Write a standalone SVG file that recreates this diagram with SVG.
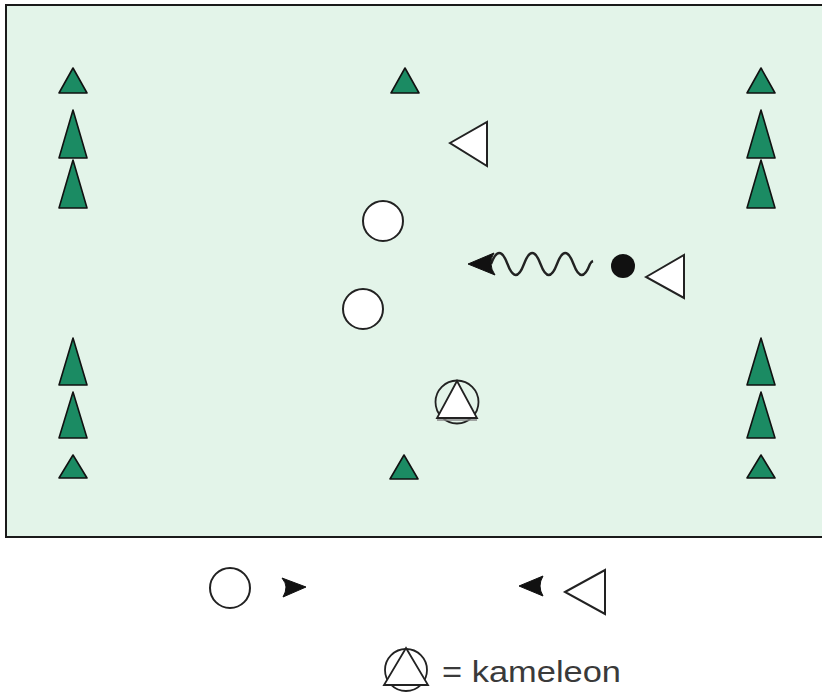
<svg xmlns="http://www.w3.org/2000/svg" width="822" height="695" viewBox="0 0 822 695">
<style>
.cone{fill:#1b8b63;stroke:#111;stroke-width:1.6;stroke-linejoin:round}
.wt{fill:#fff;stroke:#222;stroke-width:2;stroke-linejoin:miter}
.ring{fill:#fff;stroke:#222;stroke-width:2}
.arr{fill:#111;stroke:#111;stroke-width:1;stroke-linejoin:round}
.lbl{font-family:"Liberation Sans",Arial,sans-serif;font-size:30px;fill:#3a3a3a}
</style>
<rect width="822" height="695" fill="#fff"/>
<rect id="field" x="6" y="5" width="830" height="532" fill="#e3f4e9" stroke="#1a1a1a" stroke-width="2"/>
<g id="cones-left">
<polygon class="cone" points="73,68 87,93 59,93"/>
<polygon class="cone" points="73,110 87,158 59,158"/>
<polygon class="cone" points="73,160 87,208 59,208"/>
<polygon class="cone" points="73,338 87,385 59,385"/>
<polygon class="cone" points="73,392 87,438 59,438"/>
<polygon class="cone" points="73,455 87,478 59,478"/>
</g>
<g id="cones-center">
<polygon class="cone" points="405,68 419,93 391,93"/>
<polygon class="cone" points="404,455 418,479 390,479"/>
</g>
<g id="cones-right">
<polygon class="cone" points="761,68 775,93 747,93"/>
<polygon class="cone" points="761,110 775,158 747,158"/>
<polygon class="cone" points="761,160 775,208 747,208"/>
<polygon class="cone" points="761,338 775,385 747,385"/>
<polygon class="cone" points="761,392 775,438 747,438"/>
<polygon class="cone" points="761,455 775,478 747,478"/>
</g>
<g id="defender-top"><polygon class="wt" points="450,143 487,122 487,166"/></g>
<g id="player-1"><circle class="ring" cx="383" cy="221" r="20"/></g>
<g id="player-2"><circle class="ring" cx="363" cy="309" r="20"/></g>
<g id="ball"><circle cx="623" cy="266" r="12" fill="#111"/></g>
<g id="defender-right"><polygon class="wt" points="646,277 684,255 684,298"/></g>
<g id="kameleon-field">
<circle cx="457" cy="402" r="21.5" fill="none" stroke="#222" stroke-width="1.8"/>
<polygon points="457,381 477,418 437,418" fill="#fff" stroke="#222" stroke-width="1.8"/>
<line x1="437" y1="420" x2="477" y2="420" stroke="#888" stroke-width="1.5"/>
</g>
<g id="connectors">
<path d="M491,264 c5.5,-14.67 11,-14.67 16.5,0 s11,14.67 16.5,0 s11,-14.67 16.5,0 s11,14.67 16.5,0 s11,-14.67 16.5,0 s11,14.67 16.5,0 c1.2,-2 2.4,-2.8 3,-3" fill="none" stroke="#222" stroke-width="2.4"/>
<path class="arr" d="M468,264 L494,253 Q490,259 491,264 Q491,269 495,275 Z"/>
</g>
<g id="legend-attacker">
<circle class="ring" cx="230" cy="588" r="20"/>
<path class="arr" d="M306,587 L282,578 Q286,583 286,587 Q286,592 283,597 Z"/>
</g>
<g id="legend-defender">
<path class="arr" d="M519,586 L543,576 Q540,581 540,586 Q540,591 543,596 Z"/>
<polygon class="wt" points="565,592 605,570 605,614"/>
</g>
<g id="legend-kameleon">
<circle cx="406" cy="670" r="21" fill="none" stroke="#222" stroke-width="1.8"/>
<polygon points="406,648 428,685 384,685" fill="#fff" stroke="#222" stroke-width="1.8"/>
<text class="lbl" x="442" y="682" textLength="179" lengthAdjust="spacingAndGlyphs">= kameleon</text>
</g>
</svg>
